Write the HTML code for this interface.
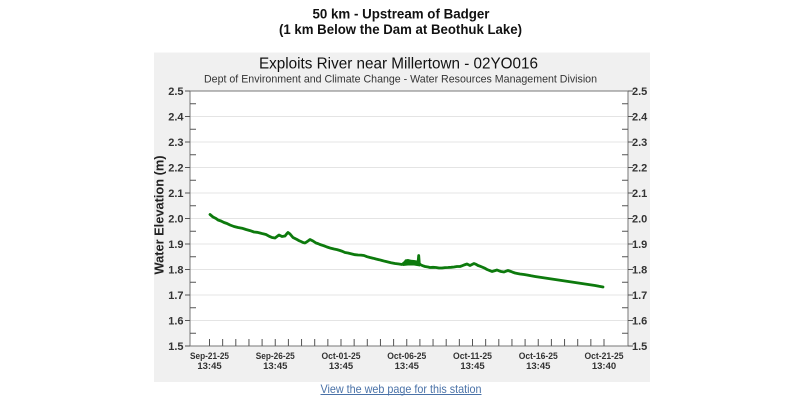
<!DOCTYPE html>
<html><head><meta charset="utf-8"><style>
html,body{margin:0;padding:0;background:#fff;}
svg{display:block;font-family:"Liberation Sans",Arial,sans-serif;}
</style></head><body>
<svg width="800" height="400" viewBox="0 0 800 400" xmlns="http://www.w3.org/2000/svg">
<rect x="0" y="0" width="800" height="400" fill="#fff"/>
<text x="401" y="18.5" text-anchor="middle" font-size="13.5" font-weight="bold" fill="#111" textLength="177" lengthAdjust="spacingAndGlyphs">50 km - Upstream of Badger</text>
<text x="400.5" y="34" text-anchor="middle" font-size="13.5" font-weight="bold" fill="#111" textLength="243" lengthAdjust="spacingAndGlyphs">(1 km Below the Dam at Beothuk Lake)</text>
<rect x="154" y="52.5" width="496" height="329.5" fill="#f0f0f0"/>
<text x="398.5" y="68.5" text-anchor="middle" font-size="16" fill="#111" textLength="279" lengthAdjust="spacingAndGlyphs">Exploits River near Millertown - 02YO016</text>
<text x="400.5" y="82.5" text-anchor="middle" font-size="11" fill="#333" textLength="393" lengthAdjust="spacingAndGlyphs">Dept of Environment and Climate Change - Water Resources Management Division</text>
<rect x="190" y="91" width="438" height="255" fill="#fff"/>
<g stroke="#e4e4e4" stroke-width="1">
<line x1="190" y1="116.5" x2="628" y2="116.5"/>
<line x1="190" y1="142" x2="628" y2="142"/>
<line x1="190" y1="167.5" x2="628" y2="167.5"/>
<line x1="190" y1="193" x2="628" y2="193"/>
<line x1="190" y1="218.5" x2="628" y2="218.5"/>
<line x1="190" y1="244" x2="628" y2="244"/>
<line x1="190" y1="269.5" x2="628" y2="269.5"/>
<line x1="190" y1="295" x2="628" y2="295"/>
<line x1="190" y1="320.5" x2="628" y2="320.5"/>
</g>
<g stroke="#555" stroke-width="1" fill="none">
<rect x="190" y="91" width="438" height="255" stroke="#777"/>
<path d="M185 91H190M185 116.5H190M185 142H190M185 167.5H190M185 193H190M185 218.5H190M185 244H190M185 269.5H190M185 295H190M185 320.5H190M185 346H190"/>
<path d="M190 103.75H196M190 129.25H196M190 154.75H196M190 180.25H196M190 205.75H196M190 231.25H196M190 256.75H196M190 282.25H196M190 307.75H196M190 333.25H196"/>
<path d="M628 91H633M628 116.5H633M628 142H633M628 167.5H633M628 193H633M628 218.5H633M628 244H633M628 269.5H633M628 295H633M628 320.5H633M628 346H633"/>
<path d="M622 103.75H628M622 129.25H628M622 154.75H628M622 180.25H628M622 205.75H628M622 231.25H628M622 256.75H628M622 282.25H628M622 307.75H628M622 333.25H628"/>
<path d="M209.5 339V346M222.65 339V346M235.8 339V346M248.95 339V346M262.1 339V346M275.25 339V346M288.4 339V346M301.55 339V346M314.7 339V346M327.85 339V346M341 339V346M354.15 339V346M367.3 339V346M380.45 339V346M393.6 339V346M406.75 339V346M419.9 339V346M433.05 339V346M446.2 339V346M459.35 339V346M472.5 339V346M485.65 339V346M498.8 339V346M511.95 339V346M525.1 339V346M538.25 339V346M551.4 339V346M564.55 339V346M577.7 339V346M590.85 339V346M604 339V346"/>
</g>
<g font-size="11" font-weight="bold" fill="#333" text-anchor="end">
<text x="183.5" y="95">2.5</text><text x="183.5" y="120.5">2.4</text><text x="183.5" y="146">2.3</text><text x="183.5" y="171.5">2.2</text><text x="183.5" y="197">2.1</text><text x="183.5" y="222.5">2.0</text><text x="183.5" y="248">1.9</text><text x="183.5" y="273.5">1.8</text><text x="183.5" y="299">1.7</text><text x="183.5" y="324.5">1.6</text><text x="183.5" y="350">1.5</text>
</g>
<g font-size="11" font-weight="bold" fill="#333" text-anchor="start">
<text x="632" y="95">2.5</text><text x="632" y="120.5">2.4</text><text x="632" y="146">2.3</text><text x="632" y="171.5">2.2</text><text x="632" y="197">2.1</text><text x="632" y="222.5">2.0</text><text x="632" y="248">1.9</text><text x="632" y="273.5">1.8</text><text x="632" y="299">1.7</text><text x="632" y="324.5">1.6</text><text x="632" y="350">1.5</text>
</g>
<text transform="translate(163.5,215) rotate(-90)" text-anchor="middle" font-size="12.5" font-weight="bold" fill="#222" textLength="119" lengthAdjust="spacingAndGlyphs">Water Elevation (m)</text>
<g font-size="9.5" font-weight="bold" fill="#333" text-anchor="middle">
<text x="209.5" y="359" textLength="39" lengthAdjust="spacingAndGlyphs">Sep-21-25</text><text x="209.5" y="369">13:45</text>
<text x="275.25" y="359" textLength="39" lengthAdjust="spacingAndGlyphs">Sep-26-25</text><text x="275.25" y="369">13:45</text>
<text x="341" y="359" textLength="39" lengthAdjust="spacingAndGlyphs">Oct-01-25</text><text x="341" y="369">13:45</text>
<text x="406.75" y="359" textLength="39" lengthAdjust="spacingAndGlyphs">Oct-06-25</text><text x="406.75" y="369">13:45</text>
<text x="472.5" y="359" textLength="39" lengthAdjust="spacingAndGlyphs">Oct-11-25</text><text x="472.5" y="369">13:45</text>
<text x="538.25" y="359" textLength="39" lengthAdjust="spacingAndGlyphs">Oct-16-25</text><text x="538.25" y="369">13:45</text>
<text x="604" y="359" textLength="39" lengthAdjust="spacingAndGlyphs">Oct-21-25</text><text x="604" y="369">13:40</text>
</g>
<g fill="none" stroke="#0d7a0d" stroke-width="2.8" stroke-linejoin="round" stroke-linecap="round">
<polyline points="210,214.5 213,217 216,218.5 218,220 221,221 224,222.5 227,223.5 230,225 234,226.5 238,227.5 242,228.2 246,229.5 250,230.6 254,232 257,232.3 260,233 263,233.8 266,234.5 269,236.2 272,237.5 275,238 277,236.5 279,235 282,236.5 285,236 287,233.5 288,232.5 290,234 293,237.5 295,238.5 297,239.5 299,240.7 301,241.5 303,242.5 305,243 307,241.7 308,241 310,239.5 313,241 316,243 318,243.6 320,244.5 324,245.8 327,247 331,248.3 334,249 337,249.6 340,250.5 343,251.6 345,252.5 348,253 352,254 355,254.7 358,255 361,255.1 364,255.5 367,256.7 370,257.5 373,258.2 376,259 379,259.7 382,260.5 385,261.3 388,262 391,262.7 395,263.5 399,264 402,264.5 404,263 406,261 409,261.5 412,262 415,262.5 418,263 418.7,255.5 419.3,263.5 421,265 423,265.8 425,266.5 428,267 430,267.5 433,267.3 436,267.5 439,268 442,268 445,267.6 448,267.5 451,267.3 454,267 457,266.5 460,266.5 462,265.8 464,265 467,264 470,265.5 472,264.5 474,263.5 476,264.3 478,265.5 480,266.2 482,267 485,268.3 487,269.5 490,270.7 492,271.5 495,270.6 497,270 499,270.8 501,271.5 504,272 506,271.2 508,270.5 511,271.5 513,272.3 515,273 518,273.6 520,274 524,274.5 527,275 531,275.8 535,276.5 540,277.3 545,278 550,278.8 555,279.5 560,280.3 565,281 570,281.8 575,282.5 580,283.3 585,284 590,284.8 595,285.5 599,286.3 603,287"/>
</g>
<path d="M403 264 L405 259.5 L408 259 L411 259.8 L414 260 L417 260.5 L420 263 L420 266.5 L414 265.5 L408 265.5 L403 266 Z" fill="#0d7a0d"/>
<text x="401" y="393" text-anchor="middle" font-size="12" fill="#4a72a8" textLength="161" lengthAdjust="spacingAndGlyphs">View the web page for this station</text>
<line x1="320.5" y1="394.5" x2="481.5" y2="394.5" stroke="#4a72a8" stroke-width="1"/>
</svg>
</body></html>
